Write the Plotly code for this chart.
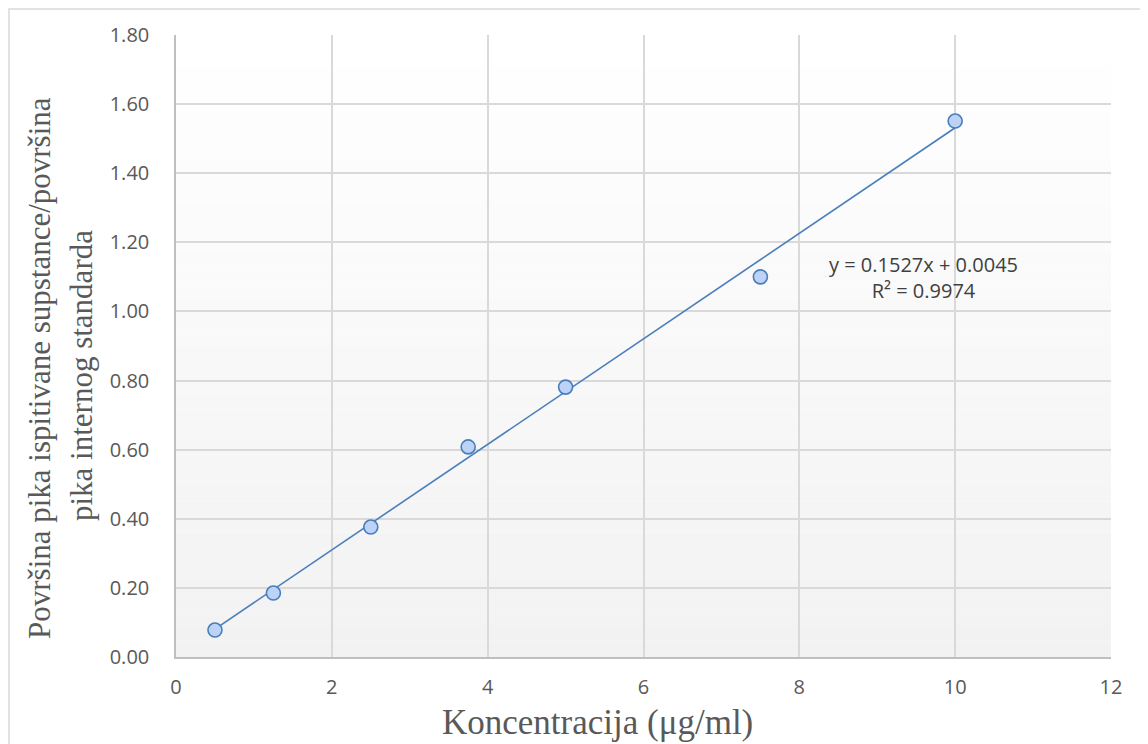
import plotly.graph_objects as go

# Data
koncentracija = [0.5, 1.25, 2.5, 3.75, 5.0, 7.5, 10.0]
odnos_povrsina = [0.078, 0.185, 0.376, 0.608, 0.781, 1.100, 1.551]
slope = 0.1527
intercept = 0.0045
r2 = 0.9974

x_title = "Koncentracija (μg/ml)"
y_title_lines = ["Površina pika ispitivane supstance/površina", "pika internog standarda"]

# page body has an 8px margin
OFF = 8
W, H = 1148 - OFF, 744 - OFF
PL, PR, PT, PB = 176, 1111, 35, 657   # plot area in screen pixels
L, R, T, B = PL - OFF, OFF + W - PR, PT - OFF, OFF + H - PB
pw, ph = PR - PL, PB - PT


def px_x(sx):
    return (sx - PL) / pw


def px_y(sy):
    return (PB - sy) / ph


fig = go.Figure()

# trendline
x_fit = [min(koncentracija), max(koncentracija)]
y_fit = [slope * v + intercept for v in x_fit]
fig.add_trace(go.Scatter(x=x_fit, y=y_fit, mode="lines",
                         line=dict(color="#4a7ebb", width=1.6),
                         hoverinfo="skip", showlegend=False))

fig.add_trace(go.Scatter(x=koncentracija, y=odnos_povrsina, mode="markers",
                         marker=dict(size=14, color="#bcd3f7",
                                     line=dict(color="#4a7ebb", width=1.6)),
                         showlegend=False))

# gradient background of plot area
shapes = []
n = 40
for i in range(n):
    g = 255 - round(13 * (i + 0.5) / n)
    shapes.append(dict(type="rect", xref="x domain", yref="y domain",
                       x0=0, x1=1, y0=1 - (i + 1) / n, y1=1 - i / n,
                       fillcolor=f"rgb({g},{g},{g})", line=dict(width=0),
                       layer="below"))
# outer chart border
shapes.append(dict(type="rect", xref="paper", yref="paper",
                   x0=px_x(9), x1=px_x(1146),
                   y0=px_y(800), y1=px_y(9),
                   line=dict(color="#d9d9d9", width=1.5), fillcolor="rgba(0,0,0,0)"))

tick_font = dict(family="Open Sans", size=20, color="#595959")
title_col = "#595959"
yt_font = dict(family="Liberation Serif", size=31, color=title_col)

fig.update_layout(
    width=W, height=H,
    margin=dict(l=L, r=R, t=T, b=B),
    paper_bgcolor="white", plot_bgcolor="rgba(0,0,0,0)",
    shapes=shapes,
    xaxis=dict(range=[0, 12], dtick=2, tick0=0, showgrid=True,
               gridcolor="#d9d9d9", gridwidth=1.5, zeroline=False,
               showline=True, linecolor="#bfbfbf", linewidth=1.5,
               ticks="outside", ticklen=11, tickcolor="rgba(0,0,0,0)",
               tickfont=tick_font),
    yaxis=dict(range=[0, 1.8], dtick=0.2, tick0=0, tickformat=".2f",
               showgrid=True, gridcolor="#d9d9d9", gridwidth=1.5, zeroline=False,
               showline=True, linecolor="#bfbfbf", linewidth=1.5,
               ticks="outside", ticklen=21, tickcolor="rgba(0,0,0,0)",
               tickfont=tick_font),
    annotations=[
        dict(x=9.59, y=1.097, xref="x", yref="y",
             text=f"y = {slope}x + {intercept}<br>R² = {r2}",
             showarrow=False, align="center",
             font=dict(family="Open Sans", size=20, color="#404040")),
        dict(x=px_x(597), y=px_y(722), xref="paper", yref="paper",
             text=x_title, showarrow=False, xanchor="center", yanchor="middle",
             font=dict(family="Liberation Serif", size=35, color=title_col)),
        dict(x=px_x(39), y=px_y(368), xref="paper", yref="paper",
             text=y_title_lines[0], showarrow=False, textangle=-90,
             xanchor="center", yanchor="middle", font=yt_font),
        dict(x=px_x(81), y=px_y(376), xref="paper", yref="paper",
             text=y_title_lines[1], showarrow=False, textangle=-90,
             xanchor="center", yanchor="middle", font=yt_font),
    ],
)

fig.write_html("out.html")
